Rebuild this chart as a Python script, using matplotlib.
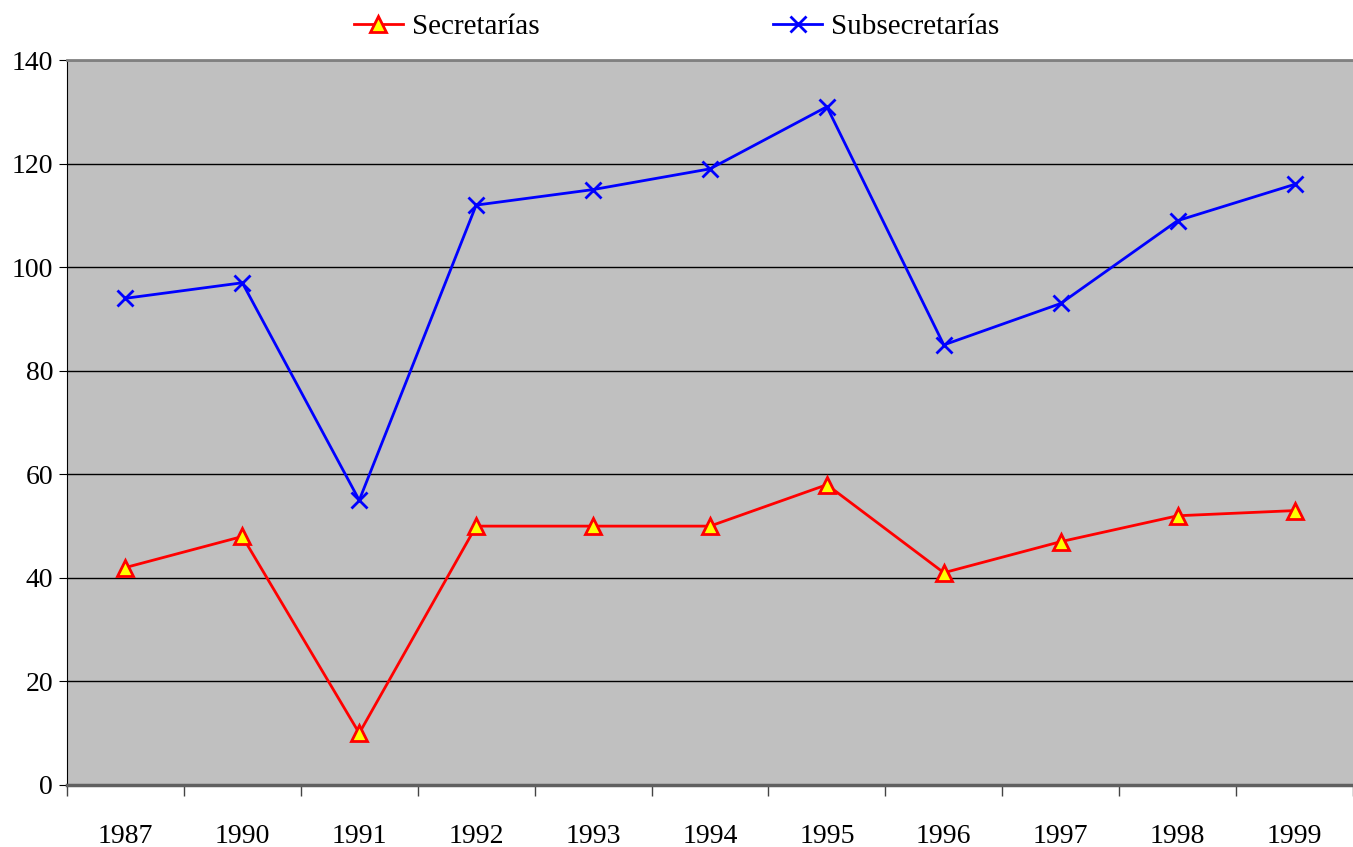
import matplotlib
matplotlib.use("Agg")
import matplotlib.pyplot as plt
import numpy as np

plt.rcParams['font.family'] = ['Liberation Serif', 'DejaVu Serif']

# datos
years = ['1987', '1990', '1991', '1992', '1993', '1994', '1995', '1996', '1997', '1998', '1999']
secretarias = [42, 48, 10, 50, 50, 50, 58, 41, 47, 52, 53]
subsecretarias = [94, 97, 55, 112, 115, 119, 131, 85, 93, 109, 116]

fig = plt.figure(figsize=(13.53, 8.47), dpi=100)
ax = fig.add_axes([0.0495, 0.0732, 0.9505, 0.8558])
ax.set_facecolor('#c0c0c0')

x = np.arange(len(years))
ax.plot(x, secretarias, color='red', linewidth=2, marker='^', markersize=11,
        markerfacecolor='yellow', markeredgecolor='red', markeredgewidth=2,
        label='Secretarías', zorder=3)
ax.plot(x, subsecretarias, color='blue', linewidth=2, marker='x', markersize=11,
        markeredgewidth=2, label='Subsecretarías', zorder=3)

# ejes
ax.set_xlim(-0.5, len(years) - 0.5)
ax.set_ylim(0, 140)
ax.set_yticks(np.arange(0, 141, 20))
ax.yaxis.grid(True, color='black', linewidth=1)
ax.set_axisbelow(True)

ax.set_xticks(x)
ax.set_xticklabels(years)
ax.set_xticks(np.arange(-0.5, len(years)), minor=True)
ax.tick_params(axis='x', which='major', length=0, pad=28, labelsize=20)
ax.tick_params(axis='x', which='minor', length=8, direction='out', width=1, color='#444444')
ax.tick_params(axis='y', length=6, direction='out', pad=4, labelsize=20)

ax.spines['right'].set_visible(False)
ax.spines['top'].set_color('#808080')
ax.spines['top'].set_linewidth(2)
ax.spines['bottom'].set_color('#606060')
ax.spines['bottom'].set_linewidth(2.5)
ax.spines['left'].set_color('black')

fig.legend(loc='upper center', bbox_to_anchor=(0.5, 1.015), ncol=2, frameon=False,
           fontsize=21, columnspacing=8.0, handlelength=1.7, handletextpad=0.3)

fig.savefig('out.png', dpi=100)
